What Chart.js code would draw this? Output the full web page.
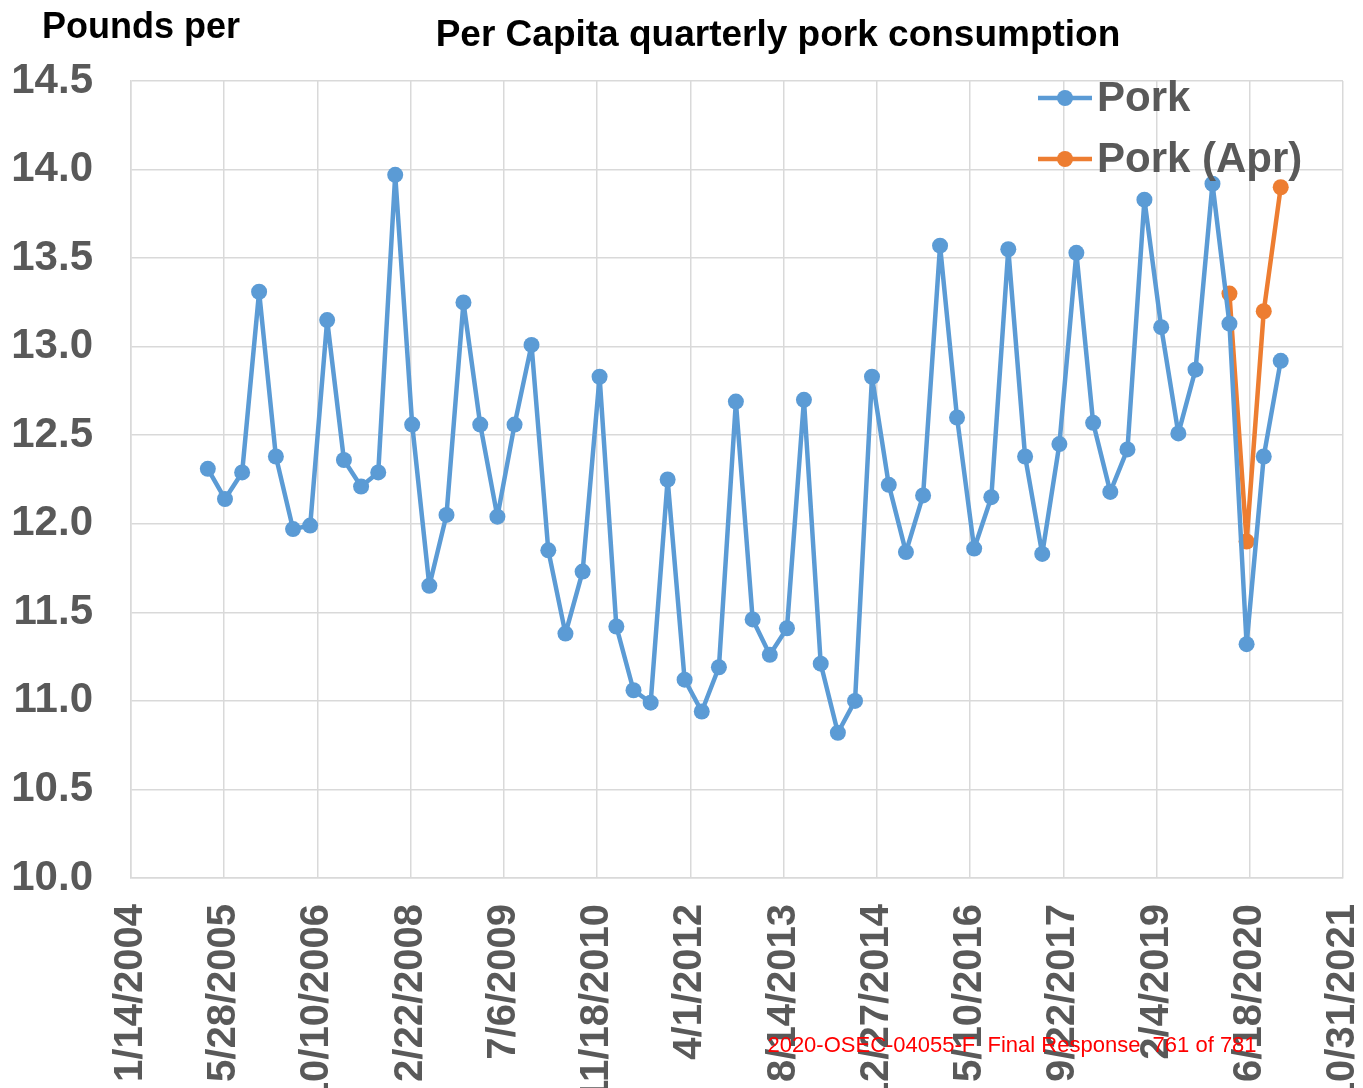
<!DOCTYPE html>
<html>
<head>
<meta charset="utf-8">
<script src="https://cdn.jsdelivr.net/npm/chart.js@4"></script>
<style>
  body { margin: 0; background: #fff; }
  #wrap { width: 1363px; height: 1088px; }
</style>
</head>
<body>
<div id="wrap"><canvas id="grafico"></canvas></div>
<script>
// quarterly data, 2005 Q1 .. 2020 Q4 (dated 1st of the last month of each quarter)
var firstYear = 2005;
var quarterMonths = [3, 6, 9, 12];

var pork = [
  12.31, 12.14, 12.29, 13.31,
  12.38, 11.97, 11.99, 13.15,
  12.36, 12.21, 12.29, 13.97,
  12.56, 11.65, 12.05, 13.25,
  12.56, 12.04, 12.56, 13.01,
  11.85, 11.38, 11.73, 12.83,
  11.42, 11.06, 10.99, 12.25,
  11.12, 10.94, 11.19, 12.69,
  11.46, 11.26, 11.41, 12.70,
  11.21, 10.82, 11.00, 12.83,
  12.22, 11.84, 12.16, 13.57,
  12.60, 11.86, 12.15, 13.55,
  12.38, 11.83, 12.45, 13.53,
  12.57, 12.18, 12.42, 13.83,
  13.11, 12.51, 12.87, 13.92,
  13.13, 11.32, 12.38, 12.92
];

// April projection for 2020
var porkAprYear = 2020;
var porkApr = [13.30, 11.90, 13.20, 13.90];

var yTicksMin = 10.0;
var yTicksMax = 14.5;
var yStep = 0.5;

// excel style date axis: 1/14/2004 .. 10/31/2021, every 500 days
var xMinSerial = 38000;
var xMaxSerial = 44500;
var xStep = 500;

var cinza = "#595959";
var fonte = 'Arial, "Liberation Sans", sans-serif';

function serial(ano, mes, dia) {
  return (Date.UTC(ano, mes - 1, dia) - Date.UTC(1899, 11, 30)) / 86400000;
}
function serialParaTexto(s) {
  var d = new Date(Date.UTC(1899, 11, 30) + s * 86400000);
  return (d.getUTCMonth() + 1) + "/" + d.getUTCDate() + "/" + d.getUTCFullYear();
}
function pontos(anoInicial, valores) {
  var lista = [];
  for (var i = 0; i < valores.length; i++) {
    var ano = anoInicial + Math.floor(i / 4);
    var mes = quarterMonths[i % 4];
    lista.push({ x: serial(ano, mes, 1), y: valores[i] });
  }
  return lista;
}

// legend drawn inside the plot area + titles + stamp
var textos = {
  id: "textos",
  afterDraw: function (chart) {
    var ctx = chart.ctx;
    var area = chart.chartArea;
    ctx.save();

    ctx.fillStyle = "#000";
    ctx.textBaseline = "middle";
    ctx.font = "bold 36px " + fonte;
    ctx.textAlign = "left";
    ctx.fillText("Pounds per", 42, 28);
    ctx.font = "bold 37px " + fonte;
    ctx.textAlign = "center";
    ctx.fillText("Per Capita quarterly pork consumption", 778, 36);

    chart.data.datasets.forEach(function (ds, i) {
      var y = area.top + 17 + i * 61;
      ctx.strokeStyle = ds.borderColor;
      ctx.lineWidth = ds.borderWidth;
      ctx.beginPath();
      ctx.moveTo(1038, y);
      ctx.lineTo(1092, y);
      ctx.stroke();
      ctx.fillStyle = ds.borderColor;
      ctx.beginPath();
      ctx.arc(1065, y, ds.pointRadius, 0, Math.PI * 2);
      ctx.fill();
      ctx.fillStyle = cinza;
      ctx.font = "bold 42px " + fonte;
      ctx.textAlign = "left";
      ctx.fillText(ds.label, 1097, y + 1);
    });

    ctx.fillStyle = "#ff0000";
    ctx.font = "22px " + fonte;
    ctx.textAlign = "center";
    ctx.fillText("2020-OSEC-04055-F  Final Response  761 of 781", 1012, 1046);
    ctx.restore();
  }
};

var ctx = document.getElementById("grafico").getContext("2d");
var chart = new Chart(ctx, {
  type: "line",
  data: {
    datasets: [
      {
        label: "Pork",
        data: pontos(firstYear, pork),
        borderColor: "#5B9BD5",
        backgroundColor: "#5B9BD5",
        borderWidth: 4.5,
        borderJoinStyle: "round",
        borderCapStyle: "round",
        pointRadius: 8,
        pointBorderWidth: 0,
        pointBackgroundColor: "#5B9BD5",
        tension: 0
      },
      {
        label: "Pork (Apr)",
        data: pontos(porkAprYear, porkApr),
        borderColor: "#ED7D31",
        backgroundColor: "#ED7D31",
        borderWidth: 4.5,
        borderJoinStyle: "round",
        borderCapStyle: "round",
        pointRadius: 8,
        pointBorderWidth: 0,
        pointBackgroundColor: "#ED7D31",
        tension: 0
      }
    ]
  },
  options: {
    responsive: true,
    maintainAspectRatio: false,
    animation: false,
    events: [],
    layout: { padding: { top: 81, right: 20, bottom: 0, left: 0 } },
    plugins: {
      legend: { display: false },
      title: { display: false },
      tooltip: { enabled: false }
    },
    scales: {
      x: {
        type: "linear",
        min: xMinSerial,
        max: xMaxSerial,
        afterBuildTicks: function (scale) {
          var t = [];
          for (var v = xMinSerial; v <= xMaxSerial; v += xStep) t.push({ value: v });
          scale.ticks = t;
        },
        afterFit: function (scale) {
          scale.height = 210;
          scale.paddingLeft = 0;
          scale.paddingRight = 0;
        },
        grid: { color: "#D9D9D9", lineWidth: 1.5, drawTicks: false },
        border: { color: "#D9D9D9", width: 1.5 },
        ticks: {
          autoSkip: false,
          minRotation: 90,
          maxRotation: 90,
          padding: 26,
          color: cinza,
          font: { family: fonte, size: 40, weight: "bold", lineHeight: 1 },
          callback: function (v) { return serialParaTexto(v); }
        }
      },
      y: {
        min: yTicksMin,
        max: yTicksMax,
        afterFit: function (scale) { scale.width = 131; },
        grid: { color: "#D9D9D9", lineWidth: 1.5, drawTicks: false },
        border: { color: "#D9D9D9", width: 1.5 },
        ticks: {
          stepSize: yStep,
          padding: 38,
          color: cinza,
          font: { family: fonte, size: 42, weight: "bold" },
          callback: function (v) { return v.toFixed(1); }
        }
      }
    }
  },
  plugins: [textos]
});
</script>
</body>
</html>
